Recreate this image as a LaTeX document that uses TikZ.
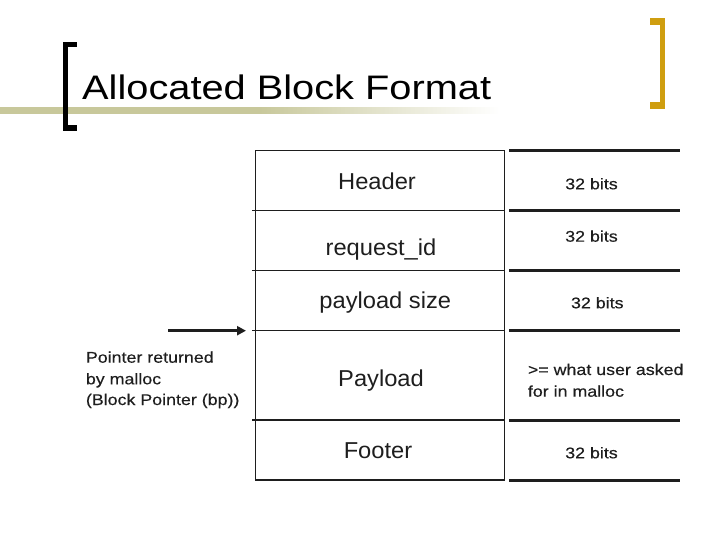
\documentclass[tikz,border=0pt]{standalone}
\usepackage{fontspec}
\setmainfont{Liberation Sans}
\newfontfamily\widefont[FakeStretch=1.17]{Liberation Sans}
\newfontfamily\notefont[FakeStretch=1.15,FakeBold=0.4]{Liberation Sans}
\newfontfamily\cellfont[FakeStretch=1.03]{Liberation Sans}
\usetikzlibrary{arrows.meta}
\definecolor{ink}{RGB}{30,30,30}
\definecolor{khaki}{RGB}{200,200,155}
\definecolor{gold}{RGB}{207,158,16}
\tikzset{
  boxline/.style={draw=ink, line width=1.2pt},
  sizeline/.style={draw=ink, line width=3pt},
  cell/.style={anchor=base, inner sep=0pt, text=ink, font=\cellfont\fontsize{23}{27}\selectfont},
  bits/.style={anchor=base, inner sep=0pt, text=ink, font=\notefont\fontsize{15.5}{21}\selectfont},
  note/.style={anchor=base west, inner sep=0pt, text=ink, font=\notefont\fontsize{15.5}{21}\selectfont},
}
\begin{document}
\begin{tikzpicture}[x=1pt,y=-1pt]
\useasboundingbox (0,0) rectangle (720,540);
% title bar
\fill[khaki] (0,107.5) rectangle (260,114);
\shade[left color=khaki, right color=white] (259.5,107.5) rectangle (500,114);
\fill[black] (63,41.7) rectangle (68.3,131);
\fill[black] (63,41.7) rectangle (77.3,46.8);
\fill[black] (63,125.5) rectangle (77.3,131);
\fill[gold] (660,18.3) rectangle (665.3,109);
\fill[gold] (650,18.3) rectangle (665.3,25);
\fill[gold] (650,102) rectangle (665.3,109);
\node[anchor=base west, inner sep=0pt, font=\widefont\fontsize{34}{40}\selectfont] (title) at (82,100) {Allocated Block Format};
% block
\draw[boxline] (255.3,150.3) rectangle (504.3,480);
\foreach \yy in {210.3,270.3,330.3,420} \draw[boxline] (252,\yy) -- (504.3,\yy);
\node[cell] (hdr) at (377,189.3) {Header};
\node[cell] (rid) at (381,255.7) {request\_id};
\node[cell] (psz) at (385.3,308) {payload size};
\node[cell] (pay) at (381,386.7) {Payload};
\node[cell] (ftr) at (378,458.3) {Footer};
% size lines
\foreach \yy in {150.3,210.3,270.3,330.3,420,480} \draw[sizeline] (509.3,\yy) -- (680,\yy);
\node[bits] (b1) at (591.5,189.3) {32 bits};
\node[bits] (b2) at (591.5,241.7) {32 bits};
\node[bits] (b3) at (597.3,308.3) {32 bits};
\node[note] (u1) at (527.7,375) {>= what user asked};
\node[note] (u2) at (527.7,396.7) {for in malloc};
\node[bits] (b5) at (591.5,458.3) {32 bits};
% pointer
\coordinate (ps) at (168,330.7);
\coordinate (pe) at (246,330.7);
\draw[ink, line width=2.6pt, -{Triangle[length=9pt,width=9pt]}] (ps) -- (pe);
\node[note] (p1) at (85.7,362.7) {Pointer returned};
\node[note] (p2) at (85.7,384.3) {by malloc};
\node[note] (p3) at (85.7,405) {(Block Pointer (bp))};
\end{tikzpicture}
\end{document}
